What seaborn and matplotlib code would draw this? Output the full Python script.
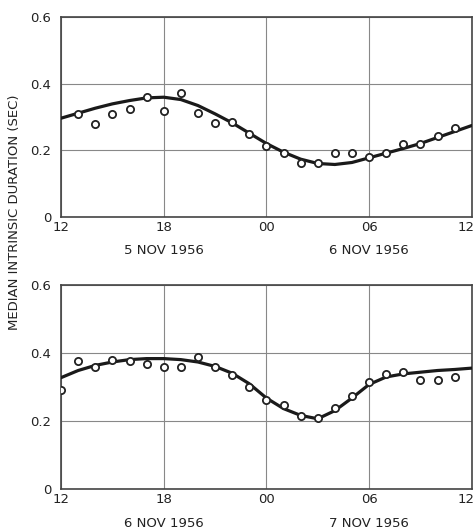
import numpy as np
import pandas as pd
import matplotlib
matplotlib.use("Agg")
import matplotlib.pyplot as plt
import matplotlib.transforms as mtransforms
import seaborn as sns

# hours after 12 UT on the first day of each panel
hours = list(range(0, 25))
pt_hours_top = list(range(1, 24))
pt_hours_bot = list(range(0, 24))

# observed medians (open circles)
obs_top = [0.308, 0.278, 0.308, 0.324, 0.359, 0.319, 0.373, 0.313, 0.283, 0.284,
           0.250, 0.214, 0.192, 0.161, 0.161, 0.191, 0.192, 0.180, 0.191, 0.220,
           0.219, 0.242, 0.266]
obs_bot = [0.292, 0.376, 0.359, 0.379, 0.376, 0.369, 0.359, 0.359, 0.390, 0.359,
           0.337, 0.300, 0.261, 0.248, 0.216, 0.209, 0.239, 0.275, 0.315, 0.339,
           0.344, 0.322, 0.322, 0.331]

# smooth fitted curves
fit_top = [0.296, 0.311, 0.326, 0.339, 0.349, 0.357, 0.359, 0.352, 0.334, 0.309,
           0.282, 0.251, 0.220, 0.194, 0.173, 0.160, 0.157, 0.163, 0.177, 0.191,
           0.205, 0.220, 0.238, 0.256, 0.274]
fit_bot = [0.328, 0.349, 0.364, 0.374, 0.381, 0.384, 0.384, 0.381, 0.374, 0.361,
           0.341, 0.310, 0.268, 0.237, 0.217, 0.207, 0.231, 0.268, 0.308, 0.330,
           0.339, 0.344, 0.349, 0.352, 0.356]

xtick_labels = ["12", "18", "00", "06", "12"]
ytick_labels = ["0", "0.2", "0.4", "0.6"]
dates_top = ["5 NOV 1956", "6 NOV 1956"]
dates_bot = ["6 NOV 1956", "7 NOV 1956"]

sns.set_style("white")
plt.rcParams["font.family"] = ["DejaVu Sans"]

fig = plt.figure(figsize=(4.77, 5.30), dpi=100)
ax1 = fig.add_axes([0.128, 0.591, 0.861, 0.377])
ax2 = fig.add_axes([0.128, 0.077, 0.861, 0.385])

panels = [
    (ax1, pt_hours_top, obs_top, fit_top, dates_top),
    (ax2, pt_hours_bot, obs_bot, fit_bot, dates_bot),
]

for ax, ph, obs, fit, dates in panels:
    df_fit = pd.DataFrame({"hour": hours, "val": fit})
    df_obs = pd.DataFrame({"hour": ph, "val": obs})
    sns.lineplot(data=df_fit, x="hour", y="val", ax=ax, color="#1a1a1a",
                 lw=2.3, zorder=3)
    ax.plot(df_obs["hour"], df_obs["val"], "o", ms=5.2, mfc="white",
            mec="#222222", mew=1.3, zorder=4)
    ax.set_xlim(0, 24)
    ax.set_ylim(0, 0.6)
    ax.set_xticks([0, 6, 12, 18, 24])
    ax.set_xticklabels(xtick_labels)
    ax.set_yticks([0, 0.2, 0.4, 0.6])
    ax.set_yticklabels(ytick_labels)
    ax.tick_params(axis="x", length=0, labelsize=9.5, colors="#222222", pad=3)
    ax.tick_params(axis="y", length=0, labelsize=9.5, colors="#222222", pad=7)
    # last "12" sits at the right edge; nudge it in so it is not clipped
    last = ax.get_xticklabels()[-1]
    last.set_transform(last.get_transform() +
                       mtransforms.ScaledTranslation(-4 / 72, 0, fig.dpi_scale_trans))
    ax.grid(True, color="#888888", lw=0.8)
    for s in ax.spines.values():
        s.set_color("#444444")
        s.set_linewidth(1.2)
    ax.set_xlabel("")
    ax.set_ylabel("")
    for x, d in zip([6, 18], dates):
        ax.text(x, -0.1, d, ha="center", va="center", fontsize=9.5,
                color="#222222")

fig.text(0.031, 0.60, "MEDIAN INTRINSIC DURATION (SEC)", rotation=90,
         ha="center", va="center", fontsize=9.5, color="#222222")

fig.savefig("out.png", dpi=100)
